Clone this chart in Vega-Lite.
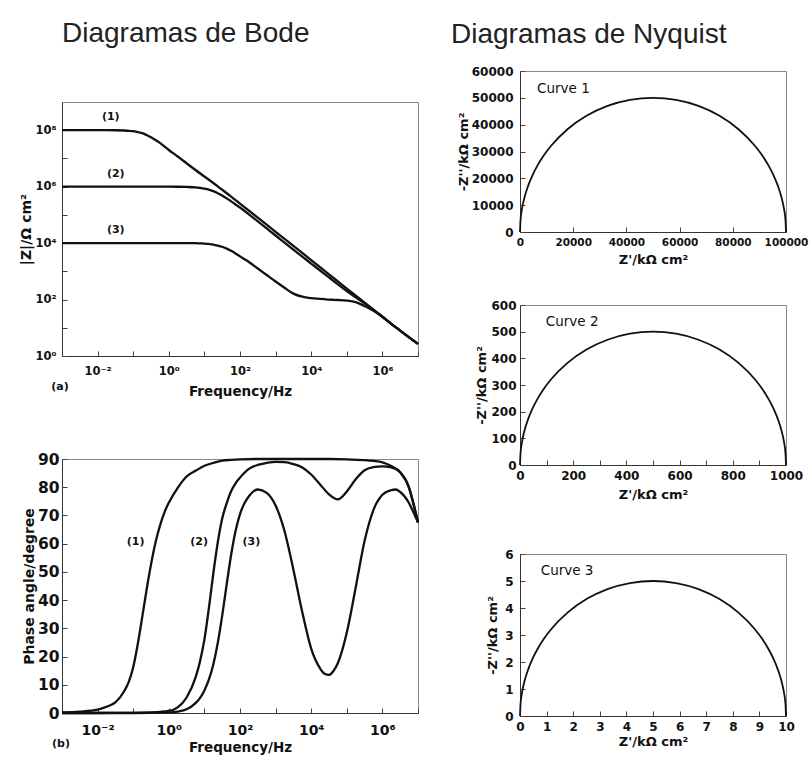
{
"$schema": "https://vega.github.io/schema/vega-lite/v6.json",
"background": "white",
"padding": {"left": 19, "top": 20, "right": 0, "bottom": 5},
"config": {
  "font": "DejaVu Sans",
  "view": {"stroke": "#888", "strokeWidth": 1},
  "axis": {"grid": false, "domainColor": "#333", "domainWidth": 1, "tickColor": "#444", "tickWidth": 1, "tickSize": -5,
           "labelFont": "DejaVu Sans", "labelFontWeight": "bold", "labelColor": "#111",
           "titleFont": "DejaVu Sans", "titleFontWeight": "bold", "titleColor": "#111",
           "labelOverlap": false, "labelFlush": false, "labelPadding": 10}
},
"datasets": {
  "bode": [
    {"c":"1","f":0.001,"Z":1e8,"P":0.2},
    {"c":"1","f":0.003162,"Z":1e8,"P":0.5},
    {"c":"1","f":0.01,"Z":1e8,"P":1.2},
    {"c":"1","f":0.01778,"Z":1e8,"P":2.2},
    {"c":"1","f":0.03162,"Z":9.99e7,"P":3.8},
    {"c":"1","f":0.05623,"Z":9.77e7,"P":7.8},
    {"c":"1","f":0.07499,"Z":9.55e7,"P":11},
    {"c":"1","f":0.1,"Z":9.23e7,"P":16.2},
    {"c":"1","f":0.1334,"Z":8.61e7,"P":24.2},
    {"c":"1","f":0.1778,"Z":7.94e7,"P":33.7},
    {"c":"1","f":0.2371,"Z":6.76e7,"P":43.6},
    {"c":"1","f":0.3162,"Z":5.62e7,"P":52.6},
    {"c":"1","f":0.4217,"Z":4.52e7,"P":60.3},
    {"c":"1","f":0.5623,"Z":3.55e7,"P":66.3},
    {"c":"1","f":0.7499,"Z":2.69e7,"P":71},
    {"c":"1","f":1,"Z":1.995e7,"P":74.5},
    {"c":"1","f":1.778,"Z":1.175e7,"P":79.8},
    {"c":"1","f":3.162,"Z":6.76e6,"P":83.8},
    {"c":"1","f":5.623,"Z":3.89e6,"P":85.8},
    {"c":"1","f":10,"Z":2.29e6,"P":87.6},
    {"c":"1","f":17.78,"Z":1.35e6,"P":88.6},
    {"c":"1","f":31.62,"Z":7.76e5,"P":89.4},
    {"c":"1","f":56.23,"Z":4.47e5,"P":89.7},
    {"c":"1","f":100,"Z":2.51e5,"P":89.9},
    {"c":"1","f":316.2,"Z":7.94e4,"P":90},
    {"c":"1","f":1000,"Z":2.51e4,"P":90},
    {"c":"1","f":3162,"Z":7943,"P":90},
    {"c":"1","f":10000,"Z":2512,"P":90},
    {"c":"1","f":31623,"Z":785,"P":90},
    {"c":"1","f":100000,"Z":245.5,"P":89.9},
    {"c":"1","f":316228,"Z":77.6,"P":89.6},
    {"c":"1","f":562341,"Z":43.65,"P":89.3},
    {"c":"1","f":1000000,"Z":24.55,"P":88.8},
    {"c":"1","f":1778279,"Z":13.8,"P":87.5},
    {"c":"1","f":3162278,"Z":7.94,"P":85.3},
    {"c":"1","f":5623413,"Z":4.57,"P":79.8},
    {"c":"1","f":7498942,"Z":3.51,"P":74},
    {"c":"1","f":10000000,"Z":2.69,"P":67.5},
    {"c":"2","f":0.001,"Z":1e6,"P":0},
    {"c":"2","f":0.01,"Z":1e6,"P":0},
    {"c":"2","f":0.1,"Z":1e6,"P":0.05},
    {"c":"2","f":0.3162,"Z":1e6,"P":0.2},
    {"c":"2","f":1,"Z":1e6,"P":0.75},
    {"c":"2","f":1.778,"Z":9.95e5,"P":2},
    {"c":"2","f":3.162,"Z":9.77e5,"P":5.5},
    {"c":"2","f":5.623,"Z":9.44e5,"P":12.5},
    {"c":"2","f":7.499,"Z":9.02e5,"P":18.2},
    {"c":"2","f":10,"Z":8.51e5,"P":26},
    {"c":"2","f":13.34,"Z":7.85e5,"P":37.1},
    {"c":"2","f":17.78,"Z":6.92e5,"P":49.4},
    {"c":"2","f":23.71,"Z":5.89e5,"P":60.4},
    {"c":"2","f":31.62,"Z":4.79e5,"P":68.9},
    {"c":"2","f":42.17,"Z":3.85e5,"P":74.3},
    {"c":"2","f":56.23,"Z":3.02e5,"P":78.6},
    {"c":"2","f":74.99,"Z":2.344e5,"P":81.4},
    {"c":"2","f":100,"Z":1.82e5,"P":83.4},
    {"c":"2","f":177.8,"Z":1.047e5,"P":86.5},
    {"c":"2","f":316.2,"Z":5.89e4,"P":87.9},
    {"c":"2","f":562.3,"Z":3.31e4,"P":88.6},
    {"c":"2","f":1000,"Z":1.86e4,"P":89},
    {"c":"2","f":1778,"Z":1.047e4,"P":88.9},
    {"c":"2","f":3162,"Z":5888,"P":88.2},
    {"c":"2","f":5623,"Z":3311,"P":87},
    {"c":"2","f":10000,"Z":1884,"P":84.5},
    {"c":"2","f":17783,"Z":1072,"P":81},
    {"c":"2","f":31623,"Z":609,"P":77.5},
    {"c":"2","f":56234,"Z":347,"P":75.7},
    {"c":"2","f":100000,"Z":199.5,"P":78.5},
    {"c":"2","f":177828,"Z":120.2,"P":82.8},
    {"c":"2","f":316228,"Z":73.3,"P":86},
    {"c":"2","f":562341,"Z":42.7,"P":87.1},
    {"c":"2","f":1000000,"Z":24.55,"P":87.4},
    {"c":"2","f":1778279,"Z":13.8,"P":87},
    {"c":"2","f":3162278,"Z":7.94,"P":85.3},
    {"c":"2","f":5623413,"Z":4.57,"P":79.8},
    {"c":"2","f":7498942,"Z":3.51,"P":74},
    {"c":"2","f":10000000,"Z":2.69,"P":67.5},
    {"c":"3","f":0.001,"Z":1e4,"P":0},
    {"c":"3","f":0.1,"Z":1e4,"P":0},
    {"c":"3","f":1,"Z":1e4,"P":0.2},
    {"c":"3","f":1.778,"Z":1e4,"P":0.5},
    {"c":"3","f":3.162,"Z":9990,"P":1.3},
    {"c":"3","f":5.623,"Z":9960,"P":3.5},
    {"c":"3","f":7.499,"Z":9772,"P":5.3},
    {"c":"3","f":10,"Z":9661,"P":8},
    {"c":"3","f":13.34,"Z":9333,"P":11.8},
    {"c":"3","f":17.78,"Z":8913,"P":17.2},
    {"c":"3","f":23.71,"Z":8222,"P":24.8},
    {"c":"3","f":31.62,"Z":7413,"P":34.5},
    {"c":"3","f":42.17,"Z":6383,"P":45.5},
    {"c":"3","f":56.23,"Z":5370,"P":56},
    {"c":"3","f":74.99,"Z":4315,"P":64.5},
    {"c":"3","f":100,"Z":3388,"P":70.5},
    {"c":"3","f":133.4,"Z":2692,"P":74.3},
    {"c":"3","f":177.8,"Z":2138,"P":76.8},
    {"c":"3","f":316.2,"Z":1259,"P":79.2},
    {"c":"3","f":562.3,"Z":741,"P":78},
    {"c":"3","f":1000,"Z":436.5,"P":73.5},
    {"c":"3","f":1778,"Z":263,"P":64.5},
    {"c":"3","f":3162,"Z":162.2,"P":50.8},
    {"c":"3","f":5623,"Z":125.9,"P":35.7},
    {"c":"3","f":10000,"Z":112.2,"P":22.8},
    {"c":"3","f":17783,"Z":105.9,"P":15.8},
    {"c":"3","f":23714,"Z":102.8,"P":13.9},
    {"c":"3","f":31623,"Z":100,"P":13.5},
    {"c":"3","f":42170,"Z":98.2,"P":14.9},
    {"c":"3","f":56234,"Z":96.6,"P":17.7},
    {"c":"3","f":100000,"Z":92.3,"P":28.5},
    {"c":"3","f":177828,"Z":81.3,"P":44.5},
    {"c":"3","f":316228,"Z":58.9,"P":61},
    {"c":"3","f":562341,"Z":39.8,"P":72},
    {"c":"3","f":1000000,"Z":24.55,"P":77.3},
    {"c":"3","f":1778279,"Z":13.8,"P":79},
    {"c":"3","f":2371374,"Z":10.47,"P":79.2},
    {"c":"3","f":3162278,"Z":7.94,"P":78.3},
    {"c":"3","f":5623413,"Z":4.57,"P":74.3},
    {"c":"3","f":7498942,"Z":3.51,"P":71},
    {"c":"3","f":10000000,"Z":2.69,"P":67.5}
  ],
  "nyq": [
    {"c":1,"x":0,"y":0},{"c":1,"x":190,"y":4360},{"c":1,"x":760,"y":8680},{"c":1,"x":1700,"y":12940},{"c":1,"x":3020,"y":17100},{"c":1,"x":4680,"y":21130},{"c":1,"x":6700,"y":25000},{"c":1,"x":9040,"y":28680},{"c":1,"x":11700,"y":32140},{"c":1,"x":17860,"y":38300},{"c":1,"x":25000,"y":43300},{"c":1,"x":32900,"y":46980},{"c":1,"x":41320,"y":49240},{"c":1,"x":50000,"y":50000},{"c":1,"x":58680,"y":49240},{"c":1,"x":67100,"y":46980},{"c":1,"x":75000,"y":43300},{"c":1,"x":82140,"y":38300},{"c":1,"x":88300,"y":32140},{"c":1,"x":90960,"y":28680},{"c":1,"x":93300,"y":25000},{"c":1,"x":95320,"y":21130},{"c":1,"x":96980,"y":17100},{"c":1,"x":98300,"y":12940},{"c":1,"x":99240,"y":8680},{"c":1,"x":99810,"y":4360},{"c":1,"x":100000,"y":0},
    {"c":2,"x":0,"y":0},{"c":2,"x":1.9,"y":43.6},{"c":2,"x":7.6,"y":86.8},{"c":2,"x":17,"y":129.4},{"c":2,"x":30.2,"y":171},{"c":2,"x":46.8,"y":211.3},{"c":2,"x":67,"y":250},{"c":2,"x":90.4,"y":286.8},{"c":2,"x":117,"y":321.4},{"c":2,"x":178.6,"y":383},{"c":2,"x":250,"y":433},{"c":2,"x":329,"y":469.8},{"c":2,"x":413.2,"y":492.4},{"c":2,"x":500,"y":500},{"c":2,"x":586.8,"y":492.4},{"c":2,"x":671,"y":469.8},{"c":2,"x":750,"y":433},{"c":2,"x":821.4,"y":383},{"c":2,"x":883,"y":321.4},{"c":2,"x":909.6,"y":286.8},{"c":2,"x":933,"y":250},{"c":2,"x":953.2,"y":211.3},{"c":2,"x":969.8,"y":171},{"c":2,"x":983,"y":129.4},{"c":2,"x":992.4,"y":86.8},{"c":2,"x":998.1,"y":43.6},{"c":2,"x":1000,"y":0},
    {"c":3,"x":0,"y":0},{"c":3,"x":0.019,"y":0.436},{"c":3,"x":0.076,"y":0.868},{"c":3,"x":0.17,"y":1.294},{"c":3,"x":0.302,"y":1.71},{"c":3,"x":0.468,"y":2.113},{"c":3,"x":0.67,"y":2.5},{"c":3,"x":0.904,"y":2.868},{"c":3,"x":1.17,"y":3.214},{"c":3,"x":1.786,"y":3.83},{"c":3,"x":2.5,"y":4.33},{"c":3,"x":3.29,"y":4.698},{"c":3,"x":4.132,"y":4.924},{"c":3,"x":5,"y":5},{"c":3,"x":5.868,"y":4.924},{"c":3,"x":6.71,"y":4.698},{"c":3,"x":7.5,"y":4.33},{"c":3,"x":8.214,"y":3.83},{"c":3,"x":8.83,"y":3.214},{"c":3,"x":9.096,"y":2.868},{"c":3,"x":9.33,"y":2.5},{"c":3,"x":9.532,"y":2.113},{"c":3,"x":9.698,"y":1.71},{"c":3,"x":9.83,"y":1.294},{"c":3,"x":9.924,"y":0.868},{"c":3,"x":9.981,"y":0.436},{"c":3,"x":10,"y":0}
  ]
},
"hconcat": [
  {
    "vconcat": [
      {
        "width": 356, "height": 31,
        "data": {"values": []},
        "mark": "point",
        "encoding": {},
        "view": {"stroke": null},
        "title": {"text": "Diagramas de Bode", "anchor": "start", "frame": "group", "dx": 0, "offset": 23, "font": "Liberation Sans", "fontSize": 28, "fontWeight": "normal", "color": "#222"}
      },
      {
        "width": 356, "height": 254,
        "data": {"name": "bode"},
        "encoding": {
          "x": {"field": "f", "type": "quantitative", "scale": {"type": "log", "domain": [0.001, 10000000], "nice": false},
                "axis": {"values": [0.001,0.01,0.1,1,10,100,1000,10000,100000,1000000,10000000],
                         "labelExpr": "datum.value > 0.005 && datum.value < 0.02 ? '10⁻²' : datum.value > 0.5 && datum.value < 2 ? '10⁰' : datum.value > 50 && datum.value < 200 ? '10²' : datum.value > 5000 && datum.value < 20000 ? '10⁴' : datum.value > 500000 && datum.value < 2000000 ? '10⁶' : ''",
                         "title": "Frequency/Hz", "labelFontSize": 11.5, "labelPadding": 14, "titleFontSize": 13.5, "titlePadding": 8}},
          "y": {"field": "Z", "type": "quantitative", "scale": {"type": "log", "domain": [1, 1000000000], "nice": false},
                "axis": {"values": [1,10,100,1000,10000,100000,1000000,10000000,100000000],
                         "labelExpr": "datum.value < 2 ? '10⁰' : datum.value > 50 && datum.value < 200 ? '10²' : datum.value > 5000 && datum.value < 20000 ? '10⁴' : datum.value > 500000 && datum.value < 2000000 ? '10⁶' : datum.value > 50000000 && datum.value < 200000000 ? '10⁸' : ''",
                         "title": "|Z|/Ω cm²", "labelFontSize": 11.5, "titleFontSize": 14, "titlePadding": 1, "labelPadding": 11}}
        },
        "layer": [
          {"mark": {"type": "line", "color": "#111", "strokeWidth": 2.3, "interpolate": "monotone"}, "encoding": {"detail": {"field": "c"}}},
          {"data": {"values": [{"t": "(1)", "f": 0.02344, "Z": 288400000}, {"t": "(2)", "f": 0.03236, "Z": 2818000}, {"t": "(3)", "f": 0.03236, "Z": 28840}, {"t": "(a)", "f": 0.00088, "Z": 0.079}]},
           "mark": {"type": "text", "font": "DejaVu Sans", "fontWeight": "bold", "fontSize": 11, "color": "#111"},
           "encoding": {"text": {"field": "t"}}}
        ]
      },
      {
        "width": 356, "height": 103,
        "data": {"values": []},
        "mark": "point",
        "encoding": {},
        "view": {"stroke": null}
      },
      {
        "width": 356, "height": 254,
        "data": {"name": "bode"},
        "encoding": {
          "x": {"field": "f", "type": "quantitative", "scale": {"type": "log", "domain": [0.001, 10000000], "nice": false},
                "axis": {"values": [0.001,0.01,0.1,1,10,100,1000,10000,100000,1000000,10000000],
                         "labelExpr": "datum.value > 0.005 && datum.value < 0.02 ? '10⁻²' : datum.value > 0.5 && datum.value < 2 ? '10⁰' : datum.value > 50 && datum.value < 200 ? '10²' : datum.value > 5000 && datum.value < 20000 ? '10⁴' : datum.value > 500000 && datum.value < 2000000 ? '10⁶' : ''",
                         "title": "Frequency/Hz", "labelFontSize": 14, "labelPadding": 15, "titleFontSize": 13.5, "titlePadding": 3}},
          "y": {"field": "P", "type": "quantitative", "scale": {"domain": [0, 90], "nice": false},
                "axis": {"values": [0,10,20,30,40,50,60,70,80,90], "title": "Phase angle/degree", "labelFontSize": 15.5, "labelPadding": 8, "titleFontSize": 14, "titlePadding": 1}}
        },
        "layer": [
          {"mark": {"type": "line", "color": "#111", "strokeWidth": 2.3, "interpolate": "monotone"}, "encoding": {"detail": {"field": "c"}}},
          {"data": {"values": [{"t": "(1)", "f": 0.1175, "P": 60.5}, {"t": "(2)", "f": 7.079, "P": 60.5}, {"t": "(3)", "f": 208.9, "P": 60.5}, {"t": "(b)", "f": 0.00094, "P": -11}]},
           "mark": {"type": "text", "font": "DejaVu Sans", "fontWeight": "bold", "fontSize": 11, "color": "#111"},
           "encoding": {"text": {"field": "t"}}}
        ]
      }
    ],
    "spacing": 0, "bounds": "flush"
  },
  {
    "vconcat": [
      {
        "width": 266, "height": 161,
        "title": {"text": "Diagramas de Nyquist", "anchor": "start", "frame": "group", "dx": -69, "offset": 16, "font": "Liberation Sans", "fontSize": 28, "fontWeight": "normal", "color": "#222"},
        "encoding": {
          "x": {"field": "x", "type": "quantitative", "scale": {"domain": [0, 100000], "nice": false},
                "axis": {"values": [0,20000,40000,60000,80000,100000], "format": "d", "title": "Z'/kΩ cm²", "labelFontSize": 10.5, "titleFontSize": 13, "titlePadding": 6}},
          "y": {"field": "y", "type": "quantitative", "scale": {"domain": [0, 60000], "nice": false},
                "axis": {"values": [0,10000,20000,30000,40000,50000,60000], "format": "d", "title": "-Z''/kΩ cm²", "labelFontSize": 12, "titleFontSize": 13, "labelPadding": 12, "titlePadding": 1}}
        },
        "layer": [
          {"data": {"name": "nyq"}, "transform": [{"filter": "datum.c == 1"}], "mark": {"type": "line", "color": "#111", "strokeWidth": 1.8, "interpolate": "monotone"}},
          {"data": {"values": [{"t": "Curve 1", "x": 6400, "y": 53300}]}, "mark": {"type": "text", "align": "left", "font": "DejaVu Sans", "fontSize": 13.5, "color": "#111"}, "encoding": {"text": {"field": "t"}}}
        ]
      },
      {
        "width": 266, "height": 73,
        "data": {"values": []},
        "mark": "point",
        "encoding": {},
        "view": {"stroke": null}
      },
      {
        "width": 266, "height": 160,
        "encoding": {
          "x": {"field": "x", "type": "quantitative", "scale": {"domain": [0, 1000], "nice": false},
                "axis": {"values": [0,100,200,300,400,500,600,700,800,900,1000], "labelExpr": "datum.value % 200 == 0 ? datum.label : ''", "format": "d", "title": "Z'/kΩ cm²", "labelFontSize": 12, "titleFontSize": 13, "titlePadding": 7}},
          "y": {"field": "y", "type": "quantitative", "scale": {"domain": [0, 600], "nice": false},
                "axis": {"values": [0,100,200,300,400,500,600], "format": "d", "title": "-Z''/kΩ cm²", "labelFontSize": 12, "titleFontSize": 13, "labelPadding": 9, "titlePadding": 2}}
        },
        "layer": [
          {"data": {"name": "nyq"}, "transform": [{"filter": "datum.c == 2"}], "mark": {"type": "line", "color": "#111", "strokeWidth": 1.8, "interpolate": "monotone"}},
          {"data": {"values": [{"t": "Curve 2", "x": 97, "y": 535}]}, "mark": {"type": "text", "align": "left", "font": "DejaVu Sans", "fontSize": 13.5, "color": "#111"}, "encoding": {"text": {"field": "t"}}}
        ]
      },
      {
        "width": 266, "height": 89,
        "data": {"values": []},
        "mark": "point",
        "encoding": {},
        "view": {"stroke": null}
      },
      {
        "width": 266, "height": 162,
        "encoding": {
          "x": {"field": "x", "type": "quantitative", "scale": {"domain": [0, 10], "nice": false},
                "axis": {"values": [0,1,2,3,4,5,6,7,8,9,10], "format": "d", "title": "Z'/kΩ cm²", "labelFontSize": 12, "titleFontSize": 13, "titlePadding": 3}},
          "y": {"field": "y", "type": "quantitative", "scale": {"domain": [0, 6], "nice": false},
                "axis": {"values": [0,1,2,3,4,5,6], "format": "d", "title": "-Z''/kΩ cm²", "labelFontSize": 12, "titleFontSize": 13, "labelPadding": 12, "titlePadding": 5}}
        },
        "layer": [
          {"data": {"name": "nyq"}, "transform": [{"filter": "datum.c == 3"}], "mark": {"type": "line", "color": "#111", "strokeWidth": 1.8, "interpolate": "monotone"}},
          {"data": {"values": [{"t": "Curve 3", "x": 0.78, "y": 5.38}]}, "mark": {"type": "text", "align": "left", "font": "DejaVu Sans", "fontSize": 13.5, "color": "#111"}, "encoding": {"text": {"field": "t"}}}
        ]
      }
    ],
    "spacing": 0, "bounds": "flush"
  }
],
"spacing": 26, "bounds": "full"
}
